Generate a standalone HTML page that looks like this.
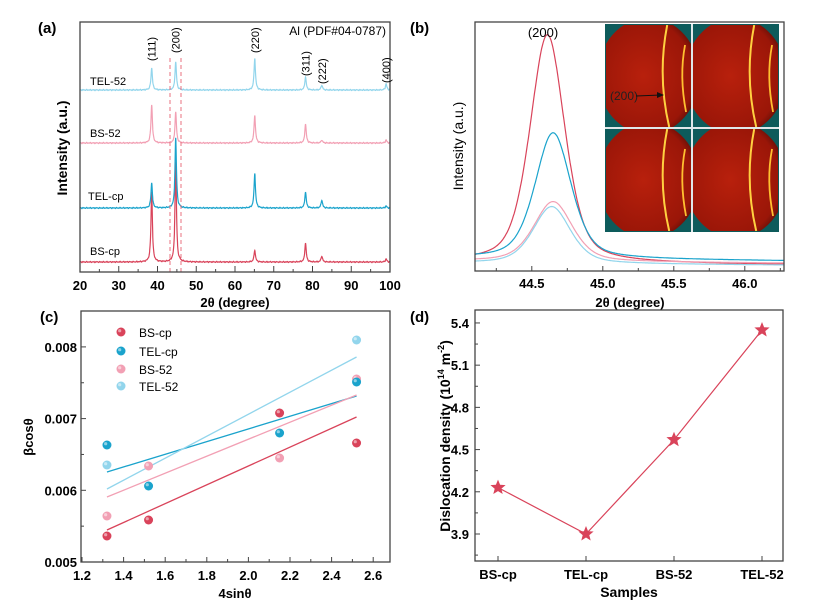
<!DOCTYPE html>
<html><head><meta charset="utf-8"><style>
html,body{margin:0;padding:0;background:#fff}
svg{display:block;font-family:"Liberation Sans",Arial,sans-serif}
</style></head><body>
<svg id="s" width="815" height="612" viewBox="0 0 815 612" xmlns="http://www.w3.org/2000/svg">
<defs>
<radialGradient id="rg" cx="0.45" cy="0.5" r="0.6"><stop offset="0" stop-color="#b8200c"/><stop offset="0.8" stop-color="#9a1608"/><stop offset="1" stop-color="#4a0c06"/></radialGradient>
<clipPath id="cA"><rect x="80" y="22" width="310" height="250"/></clipPath>
<clipPath id="cB"><rect x="475" y="22" width="309" height="249"/></clipPath>
</defs>
<g id="g"></g>
</svg>
<script>
var g=document.getElementById('g'),h='';
function L(x1,y1,x2,y2,c,w,extra){h+='<line x1="'+x1+'" y1="'+y1+'" x2="'+x2+'" y2="'+y2+'" stroke="'+c+'" stroke-width="'+(w||1)+'" '+(extra||'')+'/>';}
function T(x,y,t,s,a,extra){h+='<text x="'+x+'" y="'+y+'" font-size="'+s+'" text-anchor="'+(a||'start')+'" '+(extra||'')+'>'+t+'</text>';}
function P(d,c,w,extra){h+='<path d="'+d+'" fill="none" stroke="'+c+'" stroke-width="'+(w||1)+'" '+(extra||'')+'/>';}
var R='#d9435a',B='#1aa3cc',K='#f2a0b4',LB='#92d5ec';
// ===== panel a
var ax=function(v){return 80+(v-20)*3.875;};
function spec(base,pk,col){var d='';for(var x=20;x<=100;x+=0.05){var y=0;pk.forEach(function(p){var dx=(x-p[0])/0.22;y+=p[1]/(1+dx*dx);});
 y+= (Math.sin(x*7.3)+Math.sin(x*13.1))*0.3;d+=(d?'L':'M')+ax(x).toFixed(1)+' '+(base-y).toFixed(1);}P(d,col,1.2,'clip-path="url(#cA)"');}
spec(262,[[38.5,70],[44.7,100],[65.1,12],[78.2,19],[82.4,6],[99,3]],R);
spec(208,[[38.5,25],[44.7,70],[65.1,35],[78.2,16],[82.4,8],[99,2]],B);
spec(143,[[38.5,38],[44.7,31],[65.1,28],[78.2,19],[82.4,3],[99,3]],K);
spec(90,[[38.5,22],[44.7,28],[65.1,32],[78.2,13],[82.4,5],[99,6]],LB);
L(170,58,170,272,'#e8707f',1,'stroke-dasharray="4,3"');L(181,58,181,272,'#e8707f',1,'stroke-dasharray="4,3"');
h+='<rect x="80" y="22" width="310" height="250" fill="none" stroke="#444" stroke-width="1.3"/>';
for(var v=20;v<=100;v+=5){L(ax(v),272,ax(v),v%10?269:266,'#444');if(v%10==0)T(ax(v),290,v,13,'middle','font-weight="bold"');}
T(235,307,'2θ (degree)',13,'middle','font-weight="bold"');
T(67,148,'Intensity (a.u.)',14,'middle','font-weight="bold" transform="rotate(-90 67 148)"');
T(38,33,'(a)',15,'start','font-weight="bold"');
T(386,35,'Al (PDF#04-0787)',12,'end');
[[ax(38.5)+4,61,'(111)'],[ax(44.7)+4,53,'(200)'],[ax(65.1)+4,53,'(220)'],[ax(78.2)+4,76,'(311)'],[ax(82.4)+4,84,'(222)'],[ax(99)+4,83,'(400)']].forEach(function(a){T(a[0],a[1],a[2],11,'start','transform="rotate(-90 '+a[0]+' '+a[1]+')"');});
T(90,85,'TEL-52',11);T(90,137,'BS-52',11);T(88,200,'TEL-cp',11);T(90,255,'BS-cp',11);
// ===== panel b
var bx=function(v){return 475+(v-44.1)*142;};
function pv(c,amp,base,w,tail,col){var d='';for(var x=44.1;x<=46.3;x+=0.005){var dx=(x-c)/w;var y=amp*(0.45/(1+dx*dx)+0.55*Math.exp(-0.693*dx*dx));
 y+=tail*Math.max(0,1-(x-44.1)/3);d+=(d?'L':'M')+bx(x).toFixed(1)+' '+(base-y).toFixed(1);}P(d,col,1.2,'clip-path="url(#cB)"');}
pv(44.61,228,266,0.145,4,R);
pv(44.65,126,262,0.15,4,B);
pv(44.65,60,264,0.16,3,K);
pv(44.64,57,266,0.155,3,LB);
h+='<rect x="475" y="22" width="309" height="249" fill="none" stroke="#444" stroke-width="1.3"/>';
for(var v=44.25;v<=46.3;v+=0.25){L(bx(v),271,bx(v),Math.abs(v*2-Math.round(v*2))<0.01?266:268,'#444');}
[44.5,45.0,45.5,46.0].forEach(function(v){T(bx(v),288,v.toFixed(1),13,'middle','font-weight="bold"');});
T(630,307,'2θ (degree)',13,'middle','font-weight="bold"');
T(463,146,'Intensity (a.u.)',14,'middle','transform="rotate(-90 463 146)"');
T(410,33,'(b)',15,'start','font-weight="bold"');
T(543,37,'(200)',13,'middle');
// inset
h+='<rect x="605" y="24" width="174" height="208" fill="#0d5b5b"/>';
[[606,25],[693,25],[606,129],[693,129]].forEach(function(q,i){var x=q[0],y=q[1],w=85,hh=102;
 h+='<clipPath id="q'+i+'"><rect x="'+x+'" y="'+y+'" width="'+w+'" height="'+hh+'"/></clipPath>';
 h+='<g clip-path="url(#q'+i+')"><ellipse cx="'+(x+w/2)+'" cy="'+(y+hh/2)+'" rx="'+(w*0.6)+'" ry="'+(hh*0.57)+'" fill="url(#rg)"/>';
 var a1=x+w*0.72,a2=x+w*0.93;
 h+='<path d="M'+a1+' '+y+' Q'+(a1-10)+' '+(y+hh/2)+' '+(a1+2)+' '+(y+hh)+'" stroke="#ffd040" stroke-width="2" fill="none"/>';
 h+='<path d="M'+a2+' '+(y+20)+' Q'+(a2-6)+' '+(y+hh/2)+' '+(a2+1)+' '+(y+hh-15)+'" stroke="#ffc030" stroke-width="1.8" fill="none"/></g>';});
L(692,24,692,232,'#dfe8ea',2);L(605,128,779,128,'#dfe8ea',2);
T(610,100,'(200)',12,'start','fill="#222"');L(636,96,661,95,'#111',1);h+='<path d="M657 92 L664 95 L657 98Z" fill="#111"/>';
// ===== panel c
var cx=function(v){return 82+(v-1.2)*208;},cy=function(v){return 562-(v-0.005)*71700;};
h+='<rect x="81" y="311" width="309" height="251" fill="none" stroke="#444" stroke-width="1.3"/>';
for(var v=1.2;v<=2.61;v+=0.1){var xx=cx(v);L(xx,562,xx,Math.round(v*10)%2?559:557,'#444');}
[1.2,1.4,1.6,1.8,2.0,2.2,2.4,2.6].forEach(function(v){T(cx(v),580,v.toFixed(1),13,'middle','font-weight="bold"');});
for(var v=0.005;v<=0.0085;v+=0.0005){L(81,cy(v),Math.round(v*2000)%2?84:86,cy(v),'#444');}
[0.005,0.006,0.007,0.008].forEach(function(v){T(77,cy(v)+5,v.toFixed(3),13,'end','font-weight="bold"');});
T(235,598,'4sinθ',13,'middle','font-weight="bold"');
T(33,437,'βcosθ',13,'middle','font-weight="bold" transform="rotate(-90 33 437)"');
T(40,322,'(c)',15,'start','font-weight="bold"');
L(cx(1.32),530,cx(2.52),417,R,1.3);L(cx(1.32),472,cx(2.52),396,B,1.3);L(cx(1.32),497,cx(2.52),395,K,1.3);L(cx(1.32),489,cx(2.52),357,LB,1.3);
function dot(x,y,c){h+='<circle cx="'+x+'" cy="'+y+'" r="4.5" fill="'+c+'"/><circle cx="'+(x-1.3)+'" cy="'+(y-1.3)+'" r="1.6" fill="#fff" opacity="0.5"/>';}
var xs=[1.32,1.52,2.15,2.52];
dot(cx(1.32),465,LB);dot(cx(2.52),340,LB);
[[516,466,458,379,K],[445,486,433,382,B],[536,520,413,443,R]].forEach(function(s){for(var i=0;i<4;i++)dot(cx(xs[i]),s[i],s[4]);});
[[R,'BS-cp',332],[B,'TEL-cp',351],[K,'BS-52',369],[LB,'TEL-52',386]].forEach(function(l){dot(121,l[2],l[0]);T(139,l[2]+5,l[1],12);});
// ===== panel d
var dy=function(v){return 534-(v-3.9)*140.7;};
h+='<rect x="475" y="310" width="308" height="251" fill="none" stroke="#444" stroke-width="1.3"/>';
for(var v=3.75;v<=5.5;v+=0.15){var yy=dy(v);if(yy>310&&yy<561)L(475,yy,Math.round(v*100)%30==0?480:478,yy,'#444');}
[3.9,4.2,4.5,4.8,5.1,5.4].forEach(function(v){T(469,dy(v)+5,v.toFixed(1),13,'end','font-weight="bold"');});
var dx=[498,586,674,762],dv=[4.23,3.9,4.57,5.35];
dx.forEach(function(x,i){L(x,561,x,556,'#444');});
['BS-cp','TEL-cp','BS-52','TEL-52'].forEach(function(t,i){T(dx[i],579,t,13,'middle','font-weight="bold"');});
T(629,597,'Samples',14,'middle','font-weight="bold"');
T(450,436,'Dislocation density (10<tspan font-size="9" dy="-6">14</tspan><tspan dy="6"> m</tspan><tspan font-size="9" dy="-6">-2</tspan><tspan dy="6">)</tspan>',14,'middle','font-weight="bold" transform="rotate(-90 450 436)"');
T(410,322,'(d)',15,'start','font-weight="bold"');
var pd='';dx.forEach(function(x,i){pd+=(i?'L':'M')+x+' '+dy(dv[i]);});P(pd,R,1.2);
function star(x,y){var d='';for(var i=0;i<10;i++){var r=i%2?3.5:8,a=-Math.PI/2+i*Math.PI/5;d+=(i?'L':'M')+(x+r*Math.cos(a)).toFixed(1)+' '+(y+r*Math.sin(a)).toFixed(1);}h+='<path d="'+d+'Z" fill="'+R+'"/>';}
dx.forEach(function(x,i){star(x,dy(dv[i]));});
g.innerHTML=h;
</script>
</body></html>
